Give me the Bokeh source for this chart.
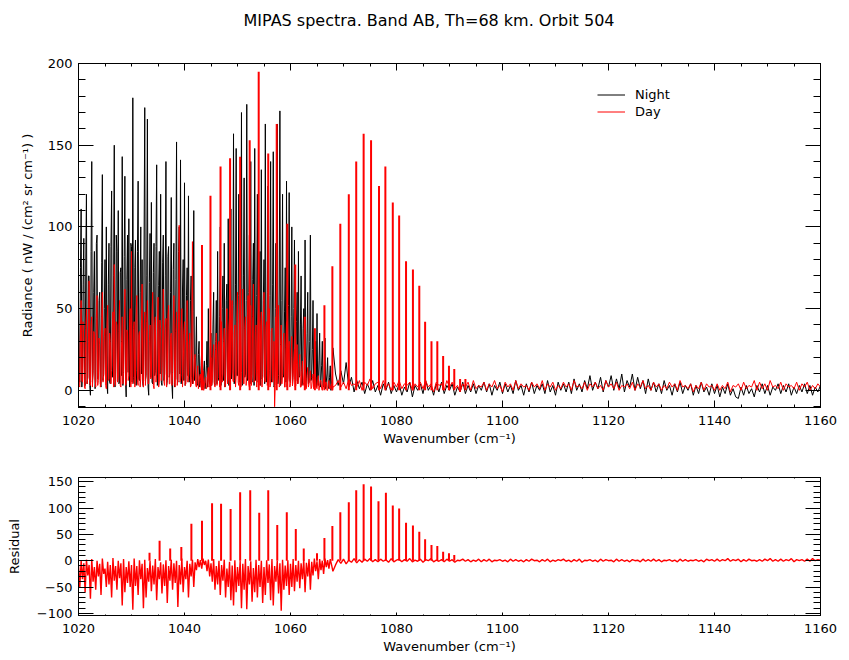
import numpy as np
from bokeh.plotting import figure
from bokeh.layouts import column
from bokeh.models import (SingleIntervalTicker, Range1d, Legend, LegendItem,
                          LinearAxis)
from bokeh.embed import file_html
from bokeh.resources import INLINE

# ---------------- data ----------------
TITLE = "MIPAS spectra. Band AB, Th=68 km. Orbit 504"
X_LABEL = "Wavenumber (cm\u207b\u00b9)"
Y_LABEL_TOP = "Radiance ( nW / (cm\u00b2 sr cm\u207b\u00b9) )"
Y_LABEL_BOTTOM = "Residual"
SERIES_NAMES = ["Night", "Day"]

# sampling grids (wavenumber, cm-1)
FINE_START, FINE_STEP = 1020.0, 0.125     # radiance, 1020 .. 1068
RES_START, RES_STEP = 1020.0, 0.25        # residual, 1020 .. 1068
TAIL_START, TAIL_STEP = 1068.5, 0.5       # all, 1068.5 .. 1160

night_dense = [
    60, 8, 5, 75, 111, 2, 10, 65, 93, 6, 3, 80, 120, 4, 8, 70,
    70, 3, -3, 85, 140, 5, 12, 60, 85, 1, 6, 90, 95, 7, 9, 55,
    60, 4, 2, 78, 132, 6, 10, 50, 80, 12, 100, 3, -2, 65, 90, 5,
    4, 88, 122, 8, 15, 70, 150, 2, 6, 95, 85, 10, 110, 4, 5, 72,
    75, 9, 143, 3, 10, 82, 131, 6, -4, 68, 95, 11, 105, 2, 8, 90,
    88, 5, 179, 8, 4, 75, 92, 3, 12, 85, 128, 7, 6, 60, 100, 10,
    80, 4, 2, 92, 173, 6, 9, 70, 166, 2, -3, 66, 96, 8, 115, 5,
    4, 72, 90, 9, 12, 88, 138, 3, 7, 64, 85, 10, 120, 5, 3, 78,
    95, 6, 10, 70, 140, 3, 6, 82, 88, 8, 11, 60, 118, 4, -5, 74,
    90, 2, 8, 68, 152, 7, 5, 85, 100, 10, 141, 4, 9, 62, 80, 6,
    127, 3, 6, 58, 75, 9, 119, 5, 10, 55, 70, 8, 4, 48, 110, 6,
    8, 20, 45, 4, 3, 22, 30, 2, 6, 15, 25, 3, 2, 12, 18, 1,
    5, 15, 30, 2, 50, 6, 4, 25, 35, 3, 8, 40, 60, 5, 3, 30,
    55, 4, 85, 8, 6, 45, 100, 3, 10, 50, 70, 6, 90, 2, 5, 55,
    65, 5, 105, 3, 8, 60, 111, 7, 12, 52, 157, 4, 6, 65, 148, 9,
    9, 58, 120, 5, 15, 62, 170, 3, 4, 70, 130, 8, 10, 55, 175, 6,
    7, 60, 95, 4, 140, 9, 5, 68, 90, 3, 148, 6, 11, 58, 120, 5,
    6, 62, 85, 3, 135, 7, 8, 55, 80, 4, 163, 9, 5, 60, 125, 3,
    12, 58, 140, 5, 7, 65, 146, 2, 3, 50, 90, 6, 163, 4, 9, 62,
    171, 3, 6, 55, 120, 8, 10, 48, 75, 5, 128, 2, 8, 52, 121, 6,
    5, 45, 100, 3, 12, 50, 92, 7, 6, 42, 60, 4, 85, 8, 9, 40,
    70, 3, 4, 38, 50, 6, 92, 2, 7, 35, 60, 4, 5, 30, 95, 6,
    8, 25, 55, 3, 4, 20, 30, 2, 47, 5, 3, 18, 35, 2, 6, 15,
    30, 3, 2, 12, 32, 1, 5, 10, 20, 2, 1, 8, 15, 0, 4, 9,
    26,
]
night_tail = [
    10, 3, 12, 4, 17, 2, 8, -1,
    6, 1, 5, -2, 4, 0, 6, -1,
    3, -3, 4, 0, 5, -2, 3, -1,
    4, -3, 2, -1, 5, -4, 3, 0,
    4, -2, 6, 0, 3, -3, 4, -1,
    5, -2, 3, 0, 4, -3, 2, -1,
    5, -2, 3, -1, 4, -2, 3, 0,
    5, -1, 4, -3, 3, 0, 5, -2,
    4, -1, 3, -2, 6, 0, 3, -3,
    4, -1, 5, -2, 3, 0, 4, -2,
    6, -1, 3, -3, 5, 0, 4, -1,
    5, -2, 7, 0, 4, -1, 6, 1,
    9, 0, 5, 1, 8, -1, 6, 2,
    9, 0, 7, 1, 10, -1, 6, 2,
    10, 0, 8, 1, 6, -2, 7, 0,
    5, -1, 4, -2, 6, 0, 3, -3,
    4, -1, 5, -2, 3, 0, 4, -3,
    3, -2, 5, -1, 2, -3, 4, -2,
    3, -4, 2, -2, 4, -3, 1, -4,
    -5, 2, -3, 3, -2, 1, -4, 3,
    -1, 4, -2, 3, -3, 2, 0, 4,
    -2, 3, -1, 4, -3, 2, -2, 3,
    -1, 4, -2, 3, -3, 2, -1, 3,
]

day_dense = [
    40, 3, 2, 35, 55, 6, 5, 42, 30, 2, 1, 38, 50, 4, 8, 30,
    67, 5, 3, 40, 45, 2, 10, 36, 35, 7, 2, 44, 58, 3, 6, 32,
    28, 2, 4, 45, 60, 5, 9, 33, 38, 3, 1, 40, 52, 6, 7, 35,
    30, 4, 12, 38, 48, 2, 77, 6, 3, 42, 40, 5, 8, 36, 55, 3,
    2, 30, 45, 4, 11, 40, 62, 3, 4, 37, 35, 6, 9, 44, 50, 2,
    85, 4, 5, 38, 42, 2, 10, 46, 58, 5, 3, 34, 36, 2, 7, 40,
    65, 6, 2, 36, 48, 3, 12, 42, 55, 4, 4, 30, 40, 7, 8, 45,
    60, 3, 1, 40, 45, 5, 10, 35, 57, 2, 5, 43, 38, 6, 13, 32,
    62, 5, 3, 38, 44, 2, 9, 46, 52, 4, 4, 33, 35, 3, 11, 40,
    58, 4, 2, 36, 48, 3, 7, 42, 101, 5, 6, 38, 50, 2, 12, 35,
    42, 3, 4, 30, 55, 5, 8, 28, 35, 2, 3, 32, 91, 4, 10, 18,
    22, 3, 2, 10, 15, 1, 5, 9, 10, 2, 1, 7, 12, 0, 4, 6,
    8, 1, 2, 10, 14, 2, 3, 16, 20, 3, 6, 22, 28, 4, 2, 25,
    35, 3, 8, 28, 30, 2, 4, 33, 42, 5, 10, 30, 38, 2, 3, 36,
    50, 4, 7, 38, 45, 3, 12, 40, 55, 6, 5, 35, 40, 2, 9, 42,
    60, 5, 3, 40, 48, 2, 11, 44, 62, 4, 4, 38, 45, 3, 8, 46,
    58, 4, 2, 42, 52, 3, 10, 45, 65, 5, 6, 36, 40, 2, 12, 40,
    55, 4, 3, 40, 48, 2, 9, 43, 60, 6, 5, 38, 42, 3, 10, 35,
    50, 2, 4, 36, 38, 5, 11, 30, -10, 3, 45, 4, 8, 34, 52, 2,
    3, 28, 40, 4, 9, 30, 35, 2, 2, 26, 42, 3, 7, 24, 30, 2,
    4, 20, 33, 3, 8, 18, 25, 2, 3, 16, 28, 4, 6, 14, 22, 2,
    2, 12, 18, 3, 5, 10, 20, 1, 1, 9, 14, 2, 4, 8, 12, 1,
    2, 7, 10, 1, 5, 6, 8, 2, 1, 5, 9, 0, 3, 6, 6, 1,
    0, 4, 7, 1, 2, 5, 5, 0, 0, 4, 6, 1, 1, 3, 4, 0,
    2,
]
day_tail = [
    3, 6, 2, 5, 1, 7, 3, 4,
    2, 6, 0, 5, 3, 7, 1, 4,
    5, 1, 6, 2, 4, 0, 5, 2,
    6, 1, 4, 3, 5, 0, 4, 2,
    5, 1, 6, 2, 4, -1, 5, 3,
    4, 0, 6, 2, 5, 1, 3, -1,
    4, 2, 5, 0, 6, 1, 3, 2,
    5, 0, 4, 2, 6, 1, 3, -1,
    5, 2, 4, 0, 6, 1, 4, 2,
    3, 0, 5, 2, 4, 1, 6, 0,
    4, 2, 5, 0, 3, 1, 5, 2,
    4, 0, 6, 2, 3, 1, 5, 0,
    4, 2, 5, 1, 3, 0, 6, 2,
    4, 1, 5, 0, 3, 2, 4, 1,
    5, 0, 4, 2, 6, 1, 3, 0,
    5, 2, 4, 0, 3, 1, 5, 2,
    4, 0, 6, 2, 3, 1, 4, -1,
    3, 1, 5, 0, 4, 2, 3, 0,
    4, 0, 3, 1, 5, -1, 3, 2,
    4, 0, 5, 1, 3, 2, 6, 0,
    5, 1, 4, 0, 6, 2, 3, 1,
    5, 0, 4, 2, 3, 1, 5, 0,
    4, 2, 5, 0, 3, 1, 4, 2,
]
# isolated day-time emission lines (position, peak radiance)
day_line_x = [1043.3, 1044.9, 1046.8, 1048.6, 1050.5, 1052.3, 1054.0, 1055.8,
              1057.4, 1059.4, 1060.9, 1062.7, 1064.6, 1066.4, 1067.9, 1069.4,
              1071.0, 1072.4, 1073.8, 1075.2, 1076.7, 1077.9, 1079.3, 1080.5,
              1081.8, 1083.1, 1084.3, 1085.4, 1086.6, 1087.7, 1088.8, 1089.9,
              1090.9, 1092.0, 1093.0]
day_line_h = [89, 119, 137, 142, 143, 153, 195, 145,
              163, 102, 77, 45, 38, 52, 76, 102,
              120, 140, 157, 153, 125, 137, 115, 107,
              79, 74, 64, 42, 30, 30, 21, 15,
              13, 7, 7]

resid_dense = [
    -10, -50, 0, -35, -5, -60, 2, -28,
    -8, -72, 3, -40, -12, -55, 0, -30,
    -6, -65, 4, -25, -15, -50, -2, -45,
    -8, -70, 5, -38, -10, -55, 0, -33,
    -5, -85, 3, -60, -12, -42, -1, -50,
    -8, -93, 4, -48, -10, -65, 1, -35,
    -6, -90, 2, -70, -14, -40, 0, -58,
    -9, -45, 3, -75, -12, -35, -3, -62,
    -7, -48, 1, -80, -10, -38, 2, -55,
    -5, -42, 0, -88, -8, -45, 4, -60,
    -12, -35, 0, -70, -6, -30, 2, -50,
    -3, -18, 3, -12, 1, -15, 4, -8,
    0, -20, 2, -30, -5, -40, 3, -55,
    -10, -45, 0, -65, -8, -38, 2, -70,
    -15, -50, -2, -75, -9, -85, 1, -60,
    -12, -48, 0, -90, -6, -55, 3, -92,
    -10, -45, -1, -78, -14, -60, 2, -70,
    -8, -50, 0, -80, -12, -65, 1, -42,
    -7, -75, 3, -85, -10, -40, 0, -62,
    -5, -95, 2, -55, -9, -48, 1, -65,
    -6, -50, 3, -58, -8, -40, 0, -52,
    -5, -35, 2, -60, -4, -30, 3, -55,
    -2, -28, 4, -20, -1, -35, 3, -18,
    0, -25, 4, -12, 1, -15, 3, -8,
    -20,
]
resid_tail = [
    -8, 2, -5, 3, -6, 1, -3, 4,
    -4, 2, -3, 3, -1, 4, -2, 2,
    -2, 3, -1, 2, -3, 4, -2, 1,
    3, -2, 2, -1, 4, -2, 1, -1,
    3, -3, 2, 0, 4, -2, 1, -1,
    2, -2, 3, -1, 2, -3, 1, 0,
    3, -1, 2, -2, 1, -1, 3, -2,
    2, -1, 3, -2, 1, 0, 2, -1,
    1, -2, 3, -1, 2, -1, 1, -2,
    2, -1, 3, 0, 1, -2, 2, -1,
    3, -2, 1, -1, 2, 0, 3, -1,
    1, -2, 2, -1, 3, -3, 1, 0,
    2, -1, 1, -2, 3, -1, 2, 0,
    1, -2, 3, -1, 2, -1, 1, -2,
    2, 0, 1, -2, 3, -1, 2, -1,
    3, -1, 2, -2, 1, 0, 2, -1,
    1, -2, 3, -1, 2, -1, 1, 0,
    2, -1, 1, -2, 3, 0, 2, -1,
    3, -1, 2, 0, 4, -1, 2, 0,
    3, -2, 2, -1, 3, 0, 1, -1,
    2, -1, 3, 0, 4, -1, 2, -1,
    3, -1, 2, 0, 4, -2, 2, 0,
    2, -1, 3, -1, 4, 0, 2, 1,
]
resid_line_x = [1033.4, 1035.3, 1037.3, 1039.4, 1041.3, 1043.3, 1045.2, 1046.9,
                1048.7, 1050.5, 1052.4, 1054.1, 1055.8, 1057.5, 1059.3, 1061.0,
                1062.5, 1065.0, 1066.4, 1067.9, 1069.4, 1071.0, 1072.4, 1073.8,
                1075.2, 1076.6, 1078.0, 1079.3, 1080.5, 1081.8, 1083.1, 1084.3,
                1085.4, 1086.6, 1087.7, 1088.8, 1089.9, 1090.9]
resid_line_h = [15, 38, 23, 26, 70, 76, 109, 108,
                98, 130, 134, 91, 134, 68, 92, 60,
                23, 14, 43, 66, 92, 111, 134, 145,
                141, 113, 129, 105, 99, 72, 67, 55,
                41, 30, 28, 17, 14, 11]

X_MIN, X_MAX = 1020, 1160
Y1_MIN, Y1_MAX = -10.5, 200
Y2_MIN, Y2_MAX = -104, 158


def series(start, step, dense, tail):
    x = np.concatenate([start + step * np.arange(len(dense)),
                        TAIL_START + TAIL_STEP * np.arange(len(tail))])
    y = np.concatenate([np.asarray(dense, float), np.asarray(tail, float)])
    return x, y


FONT = "DejaVu Sans"


def style(p, xtick, ytick, xlabel, ylabel, ylab_standoff):
    p.xgrid.visible = False
    p.ygrid.visible = False
    p.outline_line_color = "black"
    p.outline_line_width = 1
    xt = SingleIntervalTicker(interval=20, num_minor_ticks=4)
    yt = SingleIntervalTicker(interval=50, num_minor_ticks=5)
    # mirrored tick marks on the top and right edges (no labels there)
    p.add_layout(LinearAxis(ticker=xt, major_label_text_font_size="0px"),
                 "above")
    p.add_layout(LinearAxis(ticker=yt, major_label_text_font_size="0px"),
                 "right")
    p.xaxis.ticker = xt
    p.yaxis.ticker = yt
    for a in p.xaxis:
        a.major_tick_in, a.minor_tick_in = xtick, max(1, xtick // 2)
    for a in p.yaxis:
        a.major_tick_in, a.minor_tick_in = ytick, ytick // 2
    for a in p.xaxis + p.yaxis:
        a.major_tick_out = 0
        a.minor_tick_out = 0
        a.axis_line_color = "black"
        a.major_tick_line_color = "black"
        a.minor_tick_line_color = "black"
        a.major_label_text_font = FONT
        a.major_label_text_color = "black"
        a.axis_label_text_font = FONT
        a.axis_label_text_font_style = "normal"
        a.axis_label_text_font_size = "13px"
        a.axis_label_text_color = "black"
    ax, ay = p.below[0], p.left[0]
    for a in (ax, ay):
        a.major_label_text_font_size = "13px"
    ax.axis_label = xlabel
    ax.major_label_standoff = 8
    ax.axis_label_standoff = 3
    ay.axis_label = ylabel
    ay.major_label_standoff = 6
    ay.axis_label_standoff = ylab_standoff


# ---------------- title strip (a real plot title) ----------------
TITLE_H = 40
pt = figure(width=849, height=TITLE_H, title=TITLE,
            x_axis_location=None, y_axis_location=None,
            toolbar_location=None, output_backend="svg",
            min_border=0, min_border_left=0, min_border_right=0,
            min_border_top=0, min_border_bottom=0,
            outline_line_color=None)
pt.xgrid.visible = False
pt.ygrid.visible = False
pt.title.align = "left"
pt.title.offset = 165
pt.title.text_font = FONT
pt.title.text_font_size = "16px"
pt.title.text_font_style = "normal"
pt.title.text_color = "black"
pt.title.standoff = 17
pt.ray(x=[0], y=[0], length=0, line_alpha=0)

# ---------------- top panel ----------------
p1 = figure(width=849, height=452 - TITLE_H, x_range=Range1d(X_MIN, X_MAX),
            y_range=Range1d(Y1_MIN, Y1_MAX), output_backend="svg",
            toolbar_location=None, min_border_left=78, min_border_right=29,
            min_border_top=63 - TITLE_H, min_border_bottom=45)
style(p1, 7, 15, X_LABEL, Y_LABEL_TOP, 10)

xn, yn = series(FINE_START, FINE_STEP, night_dense, night_tail)
xd, yd = series(FINE_START, FINE_STEP, day_dense, day_tail)
r_night = p1.line(xn, yn, line_color="black", line_width=1)
r_day = p1.line(xd, yd, line_color="red", line_width=1)
p1.segment(x0=day_line_x, y0=0, x1=day_line_x, y1=day_line_h,
           line_color="red", line_width=2)

legend = Legend(items=[LegendItem(label=SERIES_NAMES[0], renderers=[r_night]),
                       LegendItem(label=SERIES_NAMES[1], renderers=[r_day])],
                location=(519, 287), border_line_color=None,
                background_fill_alpha=0, padding=0, margin=0, spacing=0,
                glyph_width=28, glyph_height=17, label_height=17,
                label_standoff=10, label_text_font=FONT,
                label_text_font_size="13px", label_text_color="black")
p1.add_layout(legend)

# ---------------- bottom panel ----------------
p2 = figure(width=849, height=208, x_range=p1.x_range,
            y_range=Range1d(Y2_MIN, Y2_MAX), output_backend="svg",
            toolbar_location=None, min_border_left=78, min_border_right=29,
            min_border_top=25, min_border_bottom=45)
style(p2, 3, 15, X_LABEL, Y_LABEL_BOTTOM, 12)

xr, yr = series(RES_START, RES_STEP, resid_dense, resid_tail)
p2.line(xr, yr, line_color="red", line_width=1.4)
p2.segment(x0=resid_line_x, y0=0, x1=resid_line_x, y1=resid_line_h,
           line_color="red", line_width=2)

layout = column(pt, p1, p2, spacing=0)
open("out.html", "w").write(file_html(layout, INLINE))
